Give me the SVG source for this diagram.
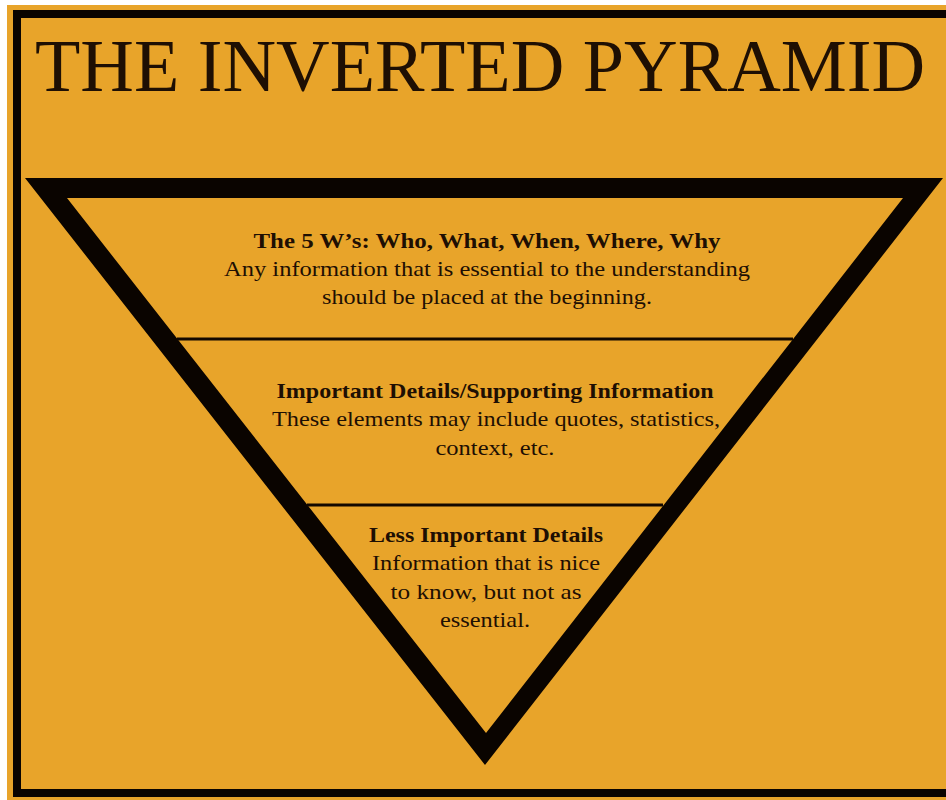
<svg xmlns="http://www.w3.org/2000/svg" width="946" height="800" viewBox="0 0 946 800">
<style>
.t{font-family:"Liberation Serif","Times New Roman",serif;fill:#1e0f03;text-anchor:middle}
.h{font-weight:bold;font-size:21px}
.b{font-size:21px}
.div{stroke:#120800;stroke-width:3}
</style>
<rect x="0" y="0" width="946" height="800" fill="#ffffff"/>
<rect x="7" y="5" width="939" height="795" fill="#E8A42A"/>
<path id="frame" d="M946,14 L17,14 L17,793 L946,793" fill="none" stroke="#0a0400" stroke-width="8"/>
<g id="title">
<text class="t" x="480" y="91" font-size="74" textLength="890" lengthAdjust="spacingAndGlyphs">THE INVERTED PYRAMID</text>
</g>
<g id="pyramid">
<path d="M25,178 L943,178 L485,765 Z M67,198 L486,733 L903,198 Z" fill="#0a0400" fill-rule="evenodd"/>
</g>
<g id="connectors">
<line class="div" x1="177" y1="339" x2="793" y2="339"/>
<line class="div" x1="307" y1="505" x2="663" y2="505"/>
</g>
<g id="tier1">
<text class="t h" x="487" y="248" textLength="467" lengthAdjust="spacingAndGlyphs">The 5 W’s: Who, What, When, Where, Why</text>
<text class="t b" x="487" y="276" textLength="526" lengthAdjust="spacingAndGlyphs">Any information that is essential to the understanding</text>
<text class="t b" x="487" y="304" textLength="330" lengthAdjust="spacingAndGlyphs">should be placed at the beginning.</text>
</g>
<g id="tier2">
<text class="t h" x="495" y="398" textLength="437" lengthAdjust="spacingAndGlyphs">Important Details/Supporting Information</text>
<text class="t b" x="496" y="426" textLength="448" lengthAdjust="spacingAndGlyphs">These elements may include quotes, statistics,</text>
<text class="t b" x="495" y="455" textLength="119" lengthAdjust="spacingAndGlyphs">context, etc.</text>
</g>
<g id="tier3">
<text class="t h" x="486" y="542" textLength="234" lengthAdjust="spacingAndGlyphs">Less Important Details</text>
<text class="t b" x="486" y="570" textLength="228" lengthAdjust="spacingAndGlyphs">Information that is nice</text>
<text class="t b" x="486" y="599" textLength="191" lengthAdjust="spacingAndGlyphs">to know, but not as</text>
<text class="t b" x="485" y="627" textLength="90" lengthAdjust="spacingAndGlyphs">essential.</text>
</g>
</svg>
